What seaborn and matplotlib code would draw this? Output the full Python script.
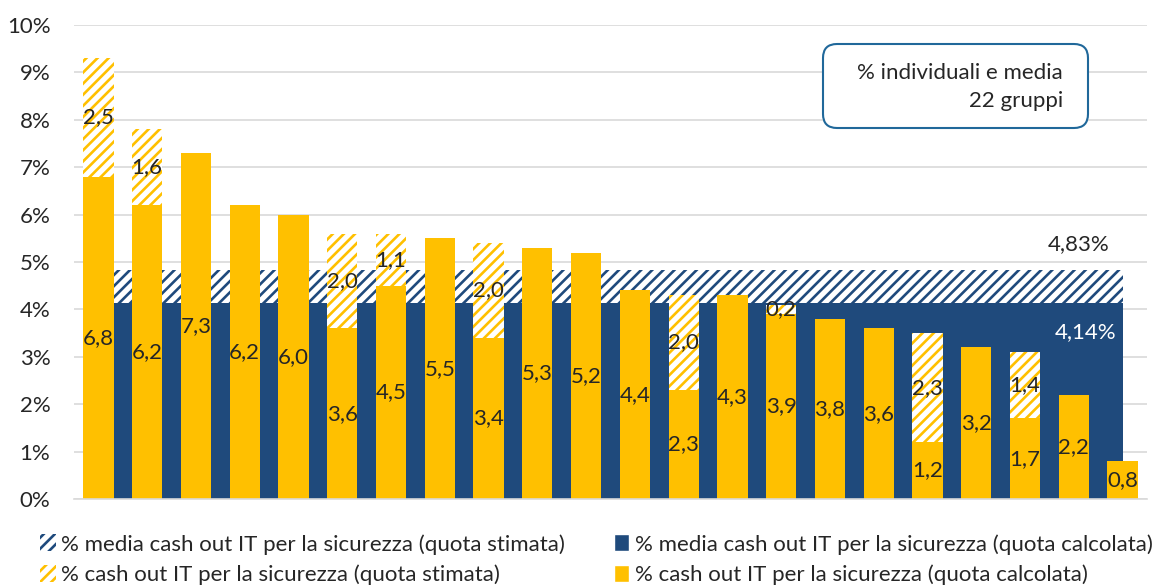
import numpy as np
import pandas as pd
import matplotlib
matplotlib.use('Agg')
import matplotlib.pyplot as plt
from matplotlib.patches import FancyBboxPatch, Patch
from matplotlib.transforms import IdentityTransform
import seaborn as sns

# valori (22 gruppi)
quota_calcolata = [6.8, 6.2, 7.3, 6.2, 6.0, 3.6, 4.5, 5.5, 3.4, 5.3, 5.2,
                   4.4, 2.3, 4.3, 3.9, 3.8, 3.6, 1.2, 3.2, 1.7, 2.2, 0.8]
quota_stimata = [2.5, 1.6, 0, 0, 0, 2.0, 1.1, 0, 2.0, 0, 0,
                 0, 2.0, 0, 0.2, 0, 0, 2.3, 0, 1.4, 0, 0]
media_calcolata = 4.14
media_totale = 4.83
y_ticks = [0, 1, 2, 3, 4, 5, 6, 7, 8, 9, 10]

GIALLO = '#FFC000'
BLU = '#1F4A7C'
FS = 16

sns.set_theme(style='white')
plt.rcParams['font.family'] = ['Lato', 'DejaVu Sans']
plt.rcParams['hatch.linewidth'] = 1.9

df = pd.DataFrame({'gruppo': range(len(quota_calcolata)),
                   'calc': quota_calcolata,
                   'stim': quota_stimata})
df['tot'] = df['calc'] + df['stim']
n = len(df)

fig = plt.figure(figsize=(11.52, 5.87), dpi=100)
ax = fig.add_axes([74 / 1152, 1 - 499 / 587, (1147 - 74) / 1152, (499 - 25) / 587])

# media (area blu dietro le barre)
ax.bar(0, media_totale, width=n - 1, align='edge', facecolor='white',
       edgecolor=BLU, hatch='///', linewidth=0, zorder=1)
ax.bar(0, media_calcolata, width=n - 1, align='edge', color=BLU,
       linewidth=0, zorder=1.5)

# barre individuali: totale tratteggiato, poi quota calcolata piena sopra
k = len(ax.patches)
sns.barplot(data=df, x='gruppo', y='tot', color=GIALLO, saturation=1,
            width=0.62, linewidth=0, ax=ax, zorder=2)
for p in ax.patches[k:]:
    p.set_facecolor('white')
    p.set_edgecolor(GIALLO)
    p.set_hatch('///')
sns.barplot(data=df, x='gruppo', y='calc', color=GIALLO, saturation=1,
            width=0.62, linewidth=0, ax=ax, zorder=2.5)


def fmt(v):
    return f'{v:.1f}'.replace('.', ',')


for i, (c, s) in enumerate(zip(quota_calcolata, quota_stimata)):
    ax.text(i, c / 2, fmt(c), ha='center', va='center', fontsize=FS, zorder=5)
    if s > 0:
        ax.text(i, c + s / 2, fmt(s), ha='center', va='center', fontsize=FS, zorder=5)

ax.text(20.1, media_totale + 0.55, f'{media_totale:.2f}%'.replace('.', ','),
        ha='center', va='center', fontsize=FS, zorder=5)
ax.text(20.25, media_calcolata - 0.62, f'{media_calcolata:.2f}%'.replace('.', ','),
        ha='center', va='center', fontsize=FS, color='white', zorder=5)

ax.set_xlim(-0.5, n - 0.5)
ax.set_ylim(0, 10)
ax.set_yticks(y_ticks)
ax.set_yticklabels([f'{t}%' for t in y_ticks], fontsize=FS)
ax.set_xticks([])
ax.set_xlabel('')
ax.set_ylabel('')
ax.yaxis.grid(True, color='#D9D9D9', linewidth=1.2)
ax.set_axisbelow(True)
for s in ['top', 'right', 'left']:
    ax.spines[s].set_visible(False)
ax.spines['bottom'].set_color('#D9D9D9')
ax.spines['bottom'].set_linewidth(1.2)
ax.tick_params(axis='y', length=0, pad=17)

# riquadro con testo
box = FancyBboxPatch((823, 587 - 128), 265, 84,
                     boxstyle='round,pad=0,rounding_size=14',
                     transform=IdentityTransform(), facecolor='white',
                     edgecolor='#20689A', linewidth=1.5, zorder=6)
fig.patches.append(box)
fig.text(1063 / 1152, 1 - 87 / 587, '% individuali e media\n22 gruppi',
         ha='right', va='center', multialignment='right', fontsize=FS,
         linespacing=1.45, zorder=7)

handles = [
    Patch(facecolor='white', edgecolor=BLU, hatch='///', linewidth=0,
          label='% media cash out IT per la sicurezza (quota stimata)'),
    Patch(facecolor='white', edgecolor=GIALLO, hatch='///', linewidth=0,
          label='% cash out IT per la sicurezza (quota stimata)'),
    Patch(facecolor=BLU, label='% media cash out IT per la sicurezza (quota calcolata)'),
    Patch(facecolor=GIALLO, label='% cash out IT per la sicurezza (quota calcolata)'),
]
fig.legend(handles=handles, ncol=2, loc='upper left',
           bbox_to_anchor=(40 / 1152, 1 - 534 / 587), frameon=False,
           fontsize=FS, handlelength=0.7, handleheight=0.8, handletextpad=0.25,
           columnspacing=2.2, labelspacing=0.45, borderpad=0, borderaxespad=0)

fig.savefig('out.png', dpi=100)
